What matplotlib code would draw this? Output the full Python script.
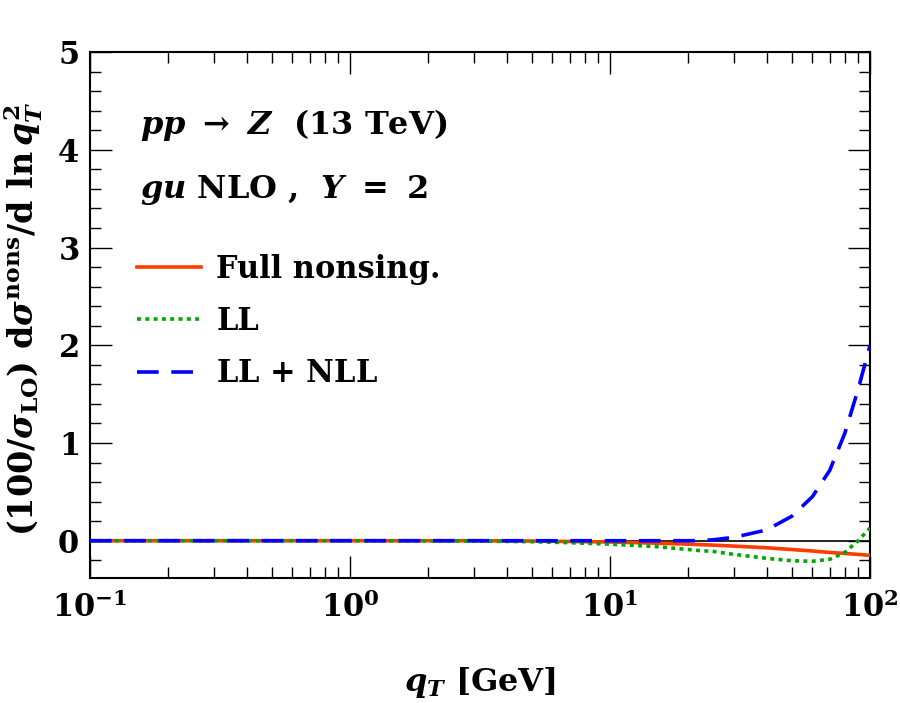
import numpy as np
import matplotlib
matplotlib.use('Agg')
import matplotlib.pyplot as plt
from matplotlib.ticker import LogLocator, MultipleLocator, NullFormatter

plt.rcParams['font.family'] = 'DejaVu Serif'
plt.rcParams['font.weight'] = 'bold'
plt.rcParams['axes.labelweight'] = 'bold'
plt.rcParams['mathtext.fontset'] = 'custom'
plt.rcParams['mathtext.rm'] = 'DejaVu Serif:bold'
plt.rcParams['mathtext.bf'] = 'DejaVu Serif:bold'
plt.rcParams['mathtext.it'] = 'DejaVu Serif:italic:bold'
plt.rcParams['mathtext.default'] = 'bf'
plt.rcParams['axes.formatter.use_mathtext'] = True

# q_T grid [GeV] and curves
qT = [0.1, 1, 3, 5, 7, 10, 15, 20, 22, 25, 30, 40, 50, 60, 70, 80, 90, 100]
full_nons = [0, 0, 0, -0.003, -0.008, -0.013, -0.025, -0.035, -0.04, -0.045, -0.055,
             -0.072, -0.09, -0.105, -0.12, -0.13, -0.14, -0.15]
ll = [0, 0, -0.003, -0.01, -0.02, -0.035, -0.06, -0.09, -0.10, -0.11, -0.14,
      -0.18, -0.205, -0.21, -0.19, -0.12, 0.0, 0.13]
ll_nll = [0, 0, 0, 0, 0, 0, 0, 0, 0, 0.01, 0.035, 0.11, 0.25, 0.45, 0.72, 1.1, 1.55, 2.0]

fig = plt.figure(figsize=(9, 7.03), dpi=100)
ax = fig.add_axes([0.1, 0.178, 0.8667, 0.748])

ax.axhline(0, color='black', lw=1.2, zorder=1)
ax.plot(qT, full_nons, color='#ff3c00', lw=2.6, ls='-', label='Full nonsing.', zorder=3)
ax.plot(qT, ll, color='#00a800', lw=2.6, ls=(0, (1.1, 1.2)), label='LL', zorder=3)
ax.plot(qT, ll_nll, color='#0000ff', lw=2.6, ls=(0, (6, 3.5)), label=r'LL $+$ NLL', zorder=3)

ax.set_xscale('log')
ax.set_xlim(0.1, 100)
ax.set_ylim(-0.38, 5)
ax.xaxis.set_major_locator(LogLocator(base=10, numticks=10))
ax.xaxis.set_minor_locator(LogLocator(base=10, subs=np.arange(2, 10), numticks=20))
ax.xaxis.set_minor_formatter(NullFormatter())
ax.yaxis.set_major_locator(MultipleLocator(1))
ax.yaxis.set_minor_locator(MultipleLocator(0.2))

ax.tick_params(which='both', direction='in', top=True, right=True, labelsize=22)
ax.tick_params(which='major', length=16, width=1.0)
ax.tick_params(which='minor', length=8, width=1.0)
ax.tick_params(axis='x', pad=10)
ax.tick_params(axis='y', pad=8)
for s in ax.spines.values():
    s.set_linewidth(1.5)

ax.set_xlabel(r'$\mathit{q_T}$ [GeV]', fontsize=23)
ax.set_ylabel(r'(100/$\mathit{\sigma}_{\mathbf{LO}}$) d$\mathit{\sigma}^{\mathbf{nons}}$/d ln$\,\mathit{q}_{\mathit{T}}^{2}$',
              fontsize=24)
ax.xaxis.set_label_coords(0.5, -0.165)
ax.yaxis.set_label_coords(-0.058, 0.492)

ax.text(0.064, 0.861, r'$\mathit{pp}\ \rightarrow\ \mathit{Z}$  (13 TeV)',
        transform=ax.transAxes, fontsize=23, va='center')
ax.text(0.064, 0.738, r'$\mathit{gu}$ NLO ,  $\mathit{Y}\ =\ $2',
        transform=ax.transAxes, fontsize=23, va='center')

leg = ax.legend(loc='upper left', bbox_to_anchor=(0.025, 0.669), frameon=False,
                fontsize=22, handlelength=2.1, handletextpad=0.5, labelspacing=0.7,
                borderpad=0.4)

fig.savefig('out.png', dpi=100)
